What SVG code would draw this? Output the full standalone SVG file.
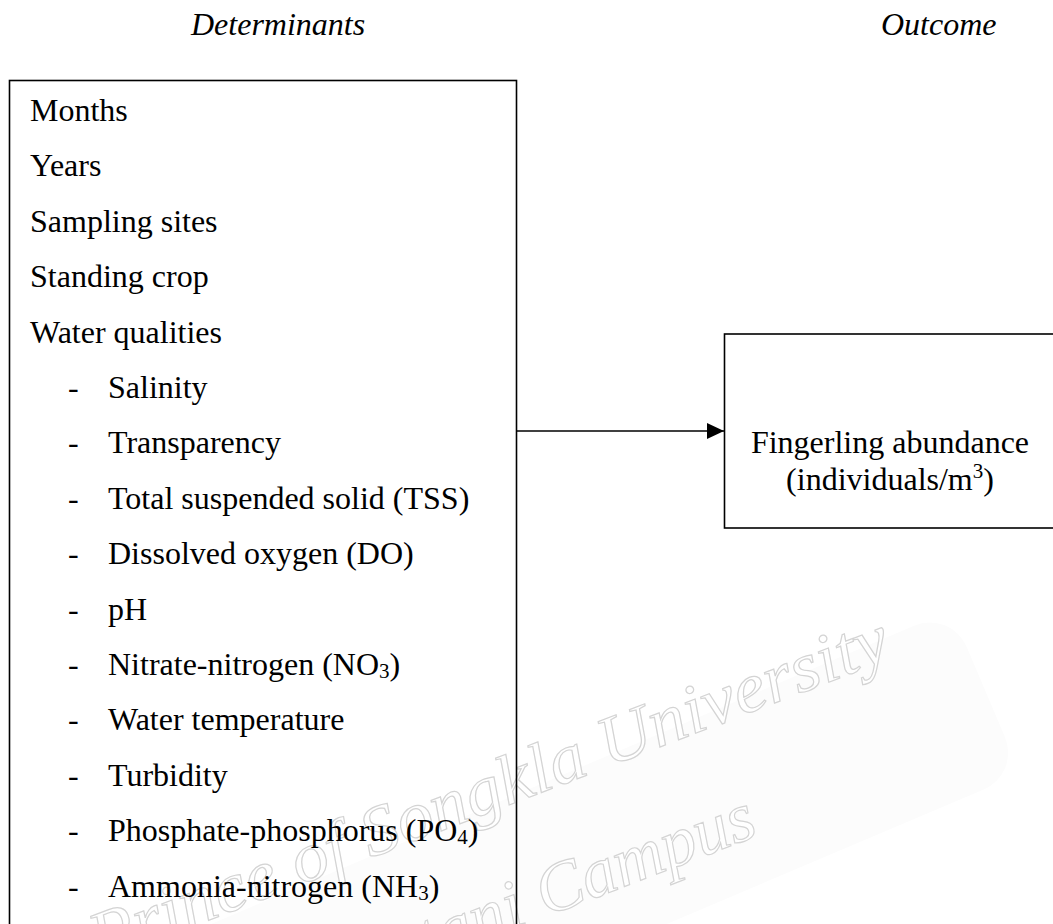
<svg xmlns="http://www.w3.org/2000/svg" width="1053" height="924" viewBox="0 0 1053 924">
<style>
.t{font-family:"Liberation Serif","Times New Roman",serif;font-size:32px;fill:#000}
.h{font-family:"Liberation Serif","Times New Roman",serif;font-size:32px;font-style:italic;fill:#000}
.box{fill:none;stroke:#000;stroke-width:1.6}
.wm{font-family:"Liberation Serif",serif;font-style:italic;font-size:70px;fill:#ffffff;stroke:#d4d4d4;stroke-width:1.2}
.sub{font-size:21px}
</style>
<defs>
<marker id="ah" markerWidth="17" markerHeight="16" refX="17" refY="8" orient="auto" markerUnits="userSpaceOnUse">
<path d="M0,0 L17,8 L0,16 Z" fill="#000"/>
</marker>
</defs>
<rect width="1053" height="924" fill="#fff"/>
<g id="watermark">
<rect x="-1150" y="0" width="1150" height="178" rx="40" fill="#fcfcfc" transform="translate(951,610) rotate(-23)"/>
<text class="wm" transform="translate(100,962) rotate(-21)" textLength="850" lengthAdjust="spacingAndGlyphs">Prince of Songkla University</text>
<text class="wm" transform="translate(337,997) rotate(-21)">Pattani Campus</text>
</g>
<g id="headers">
<text class="h" x="191" y="35">Determinants</text>
<text class="h" x="881" y="35">Outcome</text>
</g>
<g id="determinants">
<rect class="box" x="9.5" y="80.5" width="507" height="900"/>
<text class="t" x="30" y="121">Months</text>
<text class="t" x="30" y="176.4">Years</text>
<text class="t" x="30" y="231.8">Sampling sites</text>
<text class="t" x="30" y="287.2">Standing crop</text>
<text class="t" x="30" y="342.6">Water qualities</text>
<g class="t">
<text x="68" y="398">-</text><text x="108" y="398">Salinity</text>
<text x="68" y="453.4">-</text><text x="108" y="453.4">Transparency</text>
<text x="68" y="508.8">-</text><text x="108" y="508.8">Total suspended solid (TSS)</text>
<text x="68" y="564.2">-</text><text x="108" y="564.2">Dissolved oxygen (DO)</text>
<text x="68" y="619.6">-</text><text x="108" y="619.6">pH</text>
<text x="68" y="675">-</text><text x="108" y="675">Nitrate-nitrogen (NO<tspan class="sub" dy="3">3</tspan><tspan dy="-3">)</tspan></text>
<text x="68" y="730.4">-</text><text x="108" y="730.4">Water temperature</text>
<text x="68" y="785.8">-</text><text x="108" y="785.8">Turbidity</text>
<text x="68" y="841.2">-</text><text x="108" y="841.2">Phosphate-phosphorus (PO<tspan class="sub" dy="3">4</tspan><tspan dy="-3">)</tspan></text>
<text x="68" y="896.6">-</text><text x="108" y="896.6">Ammonia-nitrogen (NH<tspan class="sub" dy="3">3</tspan><tspan dy="-3">)</tspan></text>
</g>
</g>
<g id="outcome">
<rect class="box" x="724.5" y="334" width="400" height="194"/>
<text class="t" x="890" y="453" text-anchor="middle">Fingerling abundance</text>
<text class="t" x="890" y="490" text-anchor="middle">(individuals/m<tspan class="sub" dy="-12">3</tspan><tspan dy="12">)</tspan></text>
</g>
<g id="connectors">
<line x1="516.5" y1="431" x2="724" y2="431" stroke="#000" stroke-width="1.5" marker-end="url(#ah)"/>
</g>
</svg>
